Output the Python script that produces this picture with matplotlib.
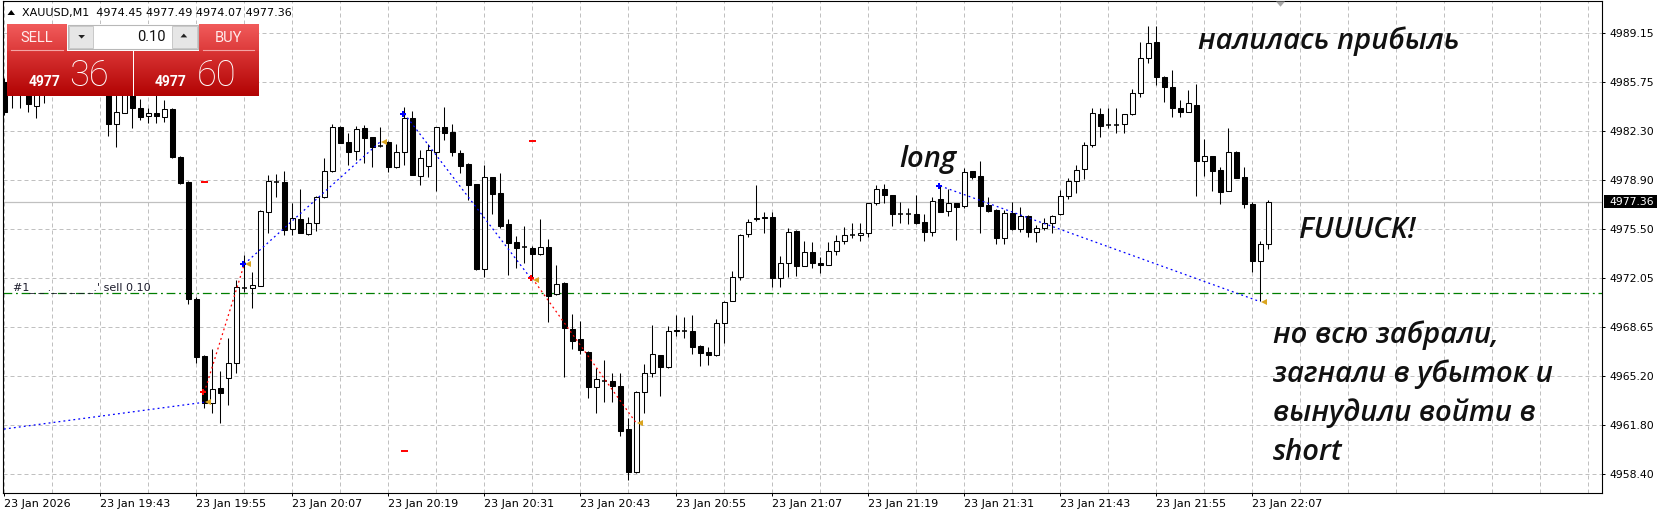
import numpy as np
import matplotlib
matplotlib.use('Agg')
import matplotlib.pyplot as plt
from matplotlib.patches import Rectangle, Polygon
from matplotlib.colors import LinearSegmentedColormap

# ---- data (XAUUSD M1, 23 Jan 2026, bars from 19:31 to 22:09) ----
title_text = 'XAUUSD,M1  4974.45 4977.49 4974.07 4977.36'
time_labels = ['23 Jan 2026', '23 Jan 19:43', '23 Jan 19:55', '23 Jan 20:07', '23 Jan 20:19',
               '23 Jan 20:31', '23 Jan 20:43', '23 Jan 20:55', '23 Jan 21:07', '23 Jan 21:19',
               '23 Jan 21:31', '23 Jan 21:43', '23 Jan 21:55', '23 Jan 22:07']
tick_bars = list(range(0, 157, 12))
price_ticks = [4989.15, 4985.75, 4982.30, 4978.90, 4975.50, 4972.05, 4968.65, 4965.20, 4961.80, 4958.40]
last_price = 4977.36
order_price = 4971.00
order_label = "#1_ _ ._ _ _ _ _.' sell 0.10"
bid_big, bid_small = '36', '4977'
ask_big, ask_small = '60', '4977'
lot_text = '0.10'

opens = [4985.73, 4985.00, 4985.50, 4985.30, 4984.08, 4985.00, 4985.50, 4986.10, 4986.50, 4986.20,
         4985.80, 4986.00, 4986.60, 4985.60, 4982.78, 4983.59, 4985.10, 4983.90, 4983.36, 4983.55,
         4983.27, 4983.85, 4980.52, 4978.74, 4970.60, 4966.62, 4963.33, 4964.37, 4965.07, 4966.11,
         4971.40, 4971.39, 4971.53, 4976.69, 4978.78, 4978.76, 4975.46, 4976.16, 4975.13, 4975.88,
         4977.69, 4979.53, 4982.57, 4981.53, 4980.92, 4982.50, 4981.87, 4981.29, 4981.55, 4979.78,
         4980.83, 4983.20, 4979.20, 4979.89, 4980.87, 4982.57, 4982.22, 4980.76, 4980.01, 4978.62,
         4972.69, 4979.09, 4977.97, 4975.81, 4974.55, 4974.20, 4974.13, 4973.72, 4974.20, 4970.93,
         4971.69, 4968.48, 4967.79, 4966.92, 4964.44, 4964.90, 4964.90, 4964.53, 4961.51, 4958.55,
         4964.13, 4965.42, 4966.67, 4965.83, 4968.43, 4968.37, 4968.37, 4967.32, 4966.90, 4966.67,
         4968.90, 4970.46, 4972.15, 4975.11, 4976.18, 4976.32, 4976.32, 4972.04, 4973.09, 4975.34,
         4972.92, 4973.85, 4973.13, 4972.97, 4973.97, 4974.64, 4975.06, 4975.06, 4975.18, 4977.27,
         4978.25, 4977.83, 4976.50, 4976.52, 4976.50, 4975.95, 4975.25, 4977.55, 4976.73, 4977.27,
         4977.08, 4979.53, 4979.18, 4977.15, 4976.80, 4974.83, 4976.57, 4975.46, 4976.39, 4975.25,
         4975.53, 4975.88, 4976.50, 4977.80, 4978.83, 4979.64, 4981.34, 4983.50, 4982.73, 4982.73,
         4982.78, 4983.48, 4984.94, 4987.38, 4988.50, 4986.06, 4985.36, 4983.90, 4983.66, 4984.13,
         4980.24, 4980.57, 4979.59, 4978.15, 4980.83, 4979.09, 4977.20, 4973.27, 4974.45]
highs = [4986.00, 4985.90, 4985.80, 4985.60, 4985.30, 4985.90, 4986.40, 4986.80, 4987.00, 4986.60,
         4986.30, 4986.90, 4987.00, 4985.90, 4984.90, 4985.30, 4985.40, 4984.52, 4983.90, 4984.90,
         4984.48, 4983.95, 4980.60, 4978.80, 4970.76, 4966.70, 4967.09, 4965.60, 4967.86, 4971.92,
         4973.67, 4972.46, 4976.80, 4979.25, 4979.32, 4979.55, 4977.31, 4978.27, 4976.34, 4977.75,
         4980.41, 4982.80, 4982.68, 4982.15, 4982.66, 4982.73, 4981.90, 4982.57, 4981.60, 4981.41,
         4984.01, 4983.71, 4980.99, 4981.39, 4982.60, 4984.01, 4982.80, 4980.99, 4980.05, 4978.65,
         4979.94, 4979.12, 4979.41, 4976.16, 4974.99, 4975.69, 4974.29, 4976.16, 4974.76, 4972.97,
         4971.76, 4969.53, 4969.06, 4966.95, 4965.76, 4966.34, 4965.42, 4965.46, 4962.28, 4964.15,
         4966.04, 4968.78, 4966.70, 4968.70, 4969.48, 4969.32, 4969.48, 4967.39, 4967.23, 4969.20,
         4970.48, 4972.55, 4975.10, 4976.16, 4978.55, 4976.69, 4976.69, 4973.60, 4975.53, 4975.40,
         4974.62, 4974.55, 4973.55, 4974.55, 4975.06, 4975.64, 4975.88, 4975.92, 4977.30, 4978.55,
         4978.62, 4977.85, 4977.34, 4976.96, 4977.85, 4976.50, 4977.69, 4978.48, 4978.25, 4977.31,
         4979.71, 4979.55, 4980.22, 4977.69, 4976.85, 4976.80, 4977.34, 4977.03, 4976.46, 4975.76,
         4976.23, 4976.45, 4978.20, 4979.06, 4979.94, 4981.57, 4983.90, 4983.90, 4983.90, 4983.90,
         4983.50, 4985.22, 4988.54, 4989.64, 4989.64, 4986.15, 4986.57, 4984.48, 4985.17, 4985.59,
         4981.74, 4980.60, 4979.82, 4982.50, 4980.92, 4979.82, 4977.38, 4974.66, 4977.49]
lows = [4983.43, 4983.90, 4983.90, 4983.66, 4983.24, 4984.29, 4985.20, 4985.80, 4985.90, 4985.50,
        4985.30, 4985.70, 4985.60, 4981.99, 4981.22, 4983.55, 4982.54, 4983.08, 4982.85, 4982.85,
        4982.96, 4980.45, 4978.65, 4970.25, 4966.11, 4963.00, 4962.63, 4961.97, 4963.21, 4965.46,
        4971.11, 4969.95, 4971.50, 4975.22, 4977.69, 4975.06, 4975.06, 4975.20, 4975.06, 4975.36,
        4977.62, 4979.48, 4981.45, 4979.94, 4980.29, 4980.06, 4979.78, 4981.22, 4979.48, 4979.75,
        4979.94, 4979.22, 4978.55, 4979.13, 4978.15, 4981.69, 4980.57, 4979.36, 4977.50, 4972.65,
        4972.15, 4976.53, 4975.53, 4972.27, 4972.74, 4973.13, 4972.11, 4973.70, 4969.02, 4970.90,
        4965.18, 4967.09, 4966.74, 4963.67, 4962.63, 4963.44, 4963.44, 4961.06, 4957.98, 4958.50,
        4962.67, 4965.18, 4963.83, 4965.80, 4968.02, 4967.90, 4966.76, 4965.95, 4965.99, 4966.65,
        4967.51, 4970.45, 4971.92, 4974.90, 4976.06, 4975.22, 4971.46, 4971.41, 4972.15, 4972.22,
        4972.90, 4972.74, 4972.43, 4972.95, 4973.67, 4974.43, 4974.83, 4974.66, 4974.90, 4977.15,
        4977.27, 4975.71, 4975.92, 4975.83, 4975.83, 4974.66, 4975.01, 4976.65, 4976.41, 4974.71,
        4976.96, 4978.97, 4975.22, 4976.70, 4974.43, 4974.43, 4975.44, 4975.29, 4974.90, 4974.59,
        4975.41, 4975.18, 4976.48, 4977.55, 4977.97, 4978.95, 4981.18, 4981.87, 4982.50, 4982.20,
        4982.20, 4983.46, 4984.66, 4987.08, 4985.52, 4984.36, 4983.31, 4983.31, 4983.64, 4977.78,
        4979.18, 4978.15, 4977.20, 4978.12, 4979.02, 4976.92, 4972.46, 4970.46, 4974.07]
closes = [4983.64, 4985.60, 4985.10, 4984.20, 4985.00, 4985.50, 4986.10, 4986.50, 4986.20, 4985.80,
          4986.00, 4986.60, 4985.90, 4982.78, 4983.62, 4985.00, 4983.90, 4983.31, 4983.55, 4983.36,
          4983.85, 4980.52, 4978.71, 4970.60, 4966.57, 4963.33, 4964.30, 4964.06, 4966.11, 4971.41,
          4971.45, 4971.57, 4976.73, 4978.83, 4978.75, 4975.41, 4976.23, 4975.22, 4975.88, 4977.69,
          4979.53, 4982.57, 4981.50, 4980.87, 4982.43, 4981.85, 4981.22, 4981.25, 4979.82, 4980.83,
          4983.20, 4979.25, 4980.41, 4980.99, 4982.57, 4982.20, 4980.87, 4979.89, 4978.55, 4972.69,
          4979.13, 4977.92, 4975.69, 4974.52, 4974.18, 4974.22, 4973.72, 4974.20, 4970.83, 4971.62,
          4968.55, 4967.69, 4967.04, 4964.44, 4965.00, 4964.93, 4964.55, 4961.41, 4958.55, 4964.13,
          4965.42, 4966.74, 4965.83, 4968.37, 4968.35, 4968.40, 4967.27, 4966.85, 4966.67, 4968.90,
          4970.37, 4972.15, 4975.06, 4975.99, 4976.27, 4976.23, 4972.04, 4973.09, 4975.29, 4972.92,
          4973.85, 4973.09, 4972.97, 4973.97, 4974.66, 4975.06, 4975.08, 4975.18, 4977.27, 4978.25,
          4977.83, 4976.50, 4976.52, 4976.50, 4975.88, 4975.25, 4977.45, 4976.69, 4977.27, 4977.03,
          4979.43, 4979.13, 4977.10, 4976.73, 4974.83, 4976.57, 4975.46, 4976.39, 4975.25, 4975.53,
          4975.88, 4976.41, 4977.78, 4978.83, 4979.59, 4981.34, 4983.55, 4982.68, 4982.75, 4982.73,
          4983.48, 4984.94, 4987.38, 4988.43, 4986.06, 4985.40, 4983.90, 4983.66, 4984.25, 4980.24,
          4980.57, 4979.55, 4978.08, 4980.83, 4979.06, 4977.20, 4973.27, 4974.41, 4977.36]

# closed trades from history (bar index counted from 19:31)
trade_kind = ['buy', 'sell', 'buy', 'buy', 'sell', 'buy']
trade_open_bar = [-39, 25, 30, 50, 66, 117]
trade_open_price = [4958.62, 4964.09, 4973.04, 4983.52, 4972.04, 4978.48]
trade_close_bar = [25, 30, 47, 66, 79, 157]
trade_close_price = [4963.40, 4973.04, 4981.57, 4971.90, 4961.94, 4970.41]
stop_bar = [25, 50, 66]
stop_price = [4978.74, 4960.00, 4981.62]

# ---- figure ----
W, H = 1659, 517
fig = plt.figure(figsize=(W / 100, H / 100), dpi=100)
ax = fig.add_axes([3 / W, (H - 493.3) / H, 1599.3 / W, 492.3 / H])

grid_kw = dict(color='#c0c0c0', lw=0.72, ls=(0, (4, 3)), zorder=1)
for gx in range(0, 200, 6):
    ax.axvline(gx, **grid_kw)
for gy in price_ticks:
    ax.axhline(gy, **grid_kw)

ax.axhline(last_price, color='#c0c0c0', lw=0.9, zorder=2)
ax.axhline(order_price, color='#007f00', lw=0.9, ls=(0, (7, 3, 1.5, 3)), zorder=2)

bw = 0.56
for x, (o, h, l, c) in enumerate(zip(opens, highs, lows, closes)):
    ax.plot([x, x], [l, h], color='black', lw=0.75, zorder=3, solid_capstyle='butt')
    if abs(c - o) < 0.06:
        ax.plot([x - bw / 2, x + bw / 2], [o, o], color='black', lw=1.1, zorder=4,
                solid_capstyle='butt')
    else:
        ax.add_patch(Rectangle((x - bw / 2, min(o, c)), bw, abs(c - o),
                               fc='white' if c > o else 'black', ec='black', lw=0.75, zorder=4))

# trade history lines and arrows
for k, ob, op, cb, cp in zip(trade_kind, trade_open_bar, trade_open_price, trade_close_bar, trade_close_price):
    col = '#0000ff' if k == 'buy' else '#ff0000'
    ax.plot([ob, cb], [op, cp], color=col, lw=0.9, ls=(0, (1.5, 2.5)), zorder=5)
    ax.plot(ob - 0.2, op, marker='P', ms=5, color=col, mew=0, zorder=6)
    ax.plot(cb + 0.45, cp, marker='<', ms=5, color='#daa520', mew=0, zorder=6)
for sb, sp in zip(stop_bar, stop_price):
    ax.plot([sb - 0.45, sb + 0.45], [sp, sp], color='#ff0000', lw=1.4, zorder=5, solid_capstyle='butt')

ax.set_xlim(-0.166, 199.75)
ax.set_ylim(4957.05, 4991.38)
for s in ax.spines.values():
    s.set_color('black')
    s.set_linewidth(0.8)
ax.yaxis.tick_right()
ax.set_yticks(price_ticks)
ax.set_yticklabels([f'{p:.2f}' for p in price_ticks])
ax.tick_params(axis='y', length=1.8, width=0.72, pad=3.2, labelsize=7.8, colors='black')
ax.set_xticks(tick_bars)
ax.set_xticklabels(time_labels, ha='left')
ax.tick_params(axis='x', length=2.2, width=0.72, pad=2.0, labelsize=8)

# ---- overlay in pixel coordinates: trade panel, labels, comments ----
ov = fig.add_axes([0, 0, 1, 1])
ov.patch.set_visible(False)
ov.axis('off')


def grad(x0, y0, x1, y1, c0, c1):
    cm = LinearSegmentedColormap.from_list('g', [c0, c1])
    ov.imshow(np.linspace(0, 1, 64).reshape(-1, 1), cmap=cm, extent=(x0, x1, y1, y0),
              aspect='auto', interpolation='bilinear', zorder=2)


ov.add_patch(Rectangle((6.7, 24), 251.6, 71.7, fc='white', ec='none', zorder=1))
grad(6.7, 24, 66.7, 51, '#f15b5b', '#dd3b3b')
grad(199, 24, 258.3, 51, '#f15b5b', '#dd3b3b')
grad(6.7, 51, 132.3, 95.7, '#d93434', '#b20303')
grad(133.7, 51, 258.3, 95.7, '#d93434', '#b20303')
ov.plot([11, 62.7], [50, 50], color='#f4a3a3', lw=0.8, zorder=3)
ov.plot([203, 254], [50, 50], color='#f4a3a3', lw=0.8, zorder=3)
# lot spinner
ov.add_patch(Rectangle((67.5, 24.8), 130.5, 23.8, fc='white', ec='#b8b8b8', lw=0.8, zorder=3))
ov.add_patch(Rectangle((68.5, 25.6), 24.8, 22.2, fc='#e6e6e6', ec='#c8c8c8', lw=0.7, zorder=4))
ov.add_patch(Rectangle((171.7, 25.6), 25.3, 22.2, fc='#e6e6e6', ec='#c8c8c8', lw=0.7, zorder=4))
ov.add_patch(Polygon([(78.3, 35), (85, 35), (81.6, 38.6)], closed=True, fc='#222222', ec='none', zorder=5))
ov.add_patch(Polygon([(180.5, 37.4), (187.2, 37.4), (183.8, 33.6)], closed=True, fc='#222222', ec='none', zorder=5))
ov.text(166, 37, lot_text, ha='right', va='center', fontsize=10.5, family='Roboto', color='#111111', zorder=6)
ov.text(36.5, 38, 'SELL', ha='center', va='center', fontsize=10.5, family='Roboto', color='#ffecec', zorder=6)
ov.text(228.5, 38, 'BUY', ha='center', va='center', fontsize=10.5, family='Roboto', color='#ffecec', zorder=6)
ov.text(29, 86.3, bid_small, ha='left', va='baseline', fontsize=10, family='Roboto', weight='bold',
        color='white', zorder=6)
ov.text(69.5, 86.3, bid_big, ha='left', va='baseline', fontsize=26, family='Roboto', weight='light',
        color='white', zorder=6)
ov.text(155, 86.3, ask_small, ha='left', va='baseline', fontsize=10, family='Roboto', weight='bold',
        color='white', zorder=6)
ov.text(196.5, 86.3, ask_big, ha='left', va='baseline', fontsize=26, family='Roboto', weight='light',
        color='white', zorder=6)

# symbol line
ov.add_patch(Polygon([(7.5, 15), (15, 15), (11.25, 10)], closed=True, fc='black', ec='none', zorder=6))
ov.text(21.7, 12.6, title_text, ha='left', va='center', fontsize=8, color='black', zorder=6)
# chart shift marker
ov.add_patch(Polygon([(1276, 1.5), (1285, 1.5), (1280.5, 6.7)], closed=True, fc='#a8a8a8', ec='none', zorder=6))
# order line label
ov.text(13.3, 290.5, order_label, ha='left', va='baseline', fontsize=8, color='#1a1a2a', zorder=6)
# last price box
ov.add_patch(Rectangle((1603.8, 195.2), 53.5, 13.2, fc='black', ec='none', zorder=6))
ov.text(1609.3, 202.0, f'{last_price:.2f}', ha='left', va='center', fontsize=7.8, color='white', zorder=7)

# comments
ann = dict(family='Open Sans', style='italic', weight='semibold', size=21, color='#111111', zorder=8,
           ha='left', va='baseline')
ov.text(1198, 49.3, 'налилась прибыль', **ann)
ov.text(899, 166.7, 'long', **ann)
ov.text(1299, 238.3, 'FUUUCK!', **ann)
for t, yb in zip(['но всю забрали,', 'загнали в убыток и', 'вынудили войти в', 'short'],
                 [343.3, 381.7, 420.7, 460.0]):
    ov.text(1272.7, yb, t, **ann)

ov.set_xlim(0, W)
ov.set_ylim(H, 0)

fig.savefig('out.png', dpi=100)
